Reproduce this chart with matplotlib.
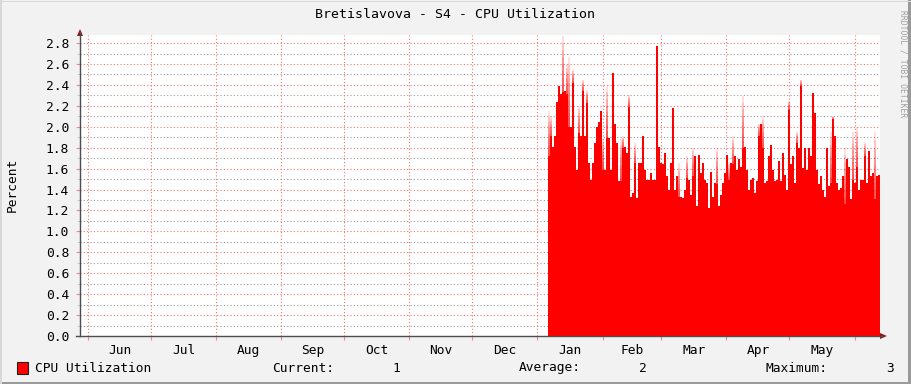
import numpy as np
import matplotlib.pyplot as plt
from matplotlib.patches import Rectangle, Polygon
from matplotlib.lines import Line2D

plt.rcParams["font.family"] = "DejaVu Sans Mono"

W, H = 911, 384

title = "Bretislavova - S4 - CPU Utilization"
months = ["Jun", "Jul", "Aug", "Sep", "Oct", "Nov", "Dec",
          "Jan", "Feb", "Mar", "Apr", "May"]
# day offsets of month starts (Jun 1 = 0) up to the next Jun 1
month_starts = [0, 30, 61, 92, 122, 153, 183, 214, 245, 273, 304, 334, 365]
y_ticks = [0.0, 0.2, 0.4, 0.6, 0.8, 1.0, 1.2, 1.4, 1.6, 1.8, 2.0, 2.2, 2.4, 2.6, 2.8]

# CPU utilisation samples (percent), roughly one per day, Jan 6 -> mid May
cpu = [
    1.72, 1.91, 1.81, 1.91, 2.24, 2.39, 2.31, 2.33, 2.34, 2.31, 2.00, 2.00, 2.42, 1.81,
    1.59, 1.94, 1.91, 2.34, 1.91, 2.23, 1.65, 1.49, 1.65, 1.84, 2.00, 2.05, 2.15,
    1.59, 1.59, 1.89, 1.89, 1.59, 2.51, 2.03, 1.84, 1.48, 1.48, 1.80, 1.81, 1.75, 2.19,
    1.33, 1.37, 1.65, 1.32, 1.65, 1.65, 1.91, 1.59, 1.49, 1.49, 1.56, 1.49, 1.49, 2.77,
    1.81, 1.65, 1.64, 1.75, 1.53, 1.40, 1.65, 2.18, 1.40, 1.53, 1.33, 1.33, 1.32, 1.40,
    1.51, 1.49, 1.35, 1.53, 1.72, 1.24, 1.73, 1.56, 1.65, 1.49, 1.46, 1.22, 1.57, 1.33,
    1.46, 1.45, 1.24, 1.35, 1.46, 1.56, 1.73, 1.49, 1.65, 1.64, 1.72, 1.59, 1.69, 1.62,
    1.80, 1.81, 1.59, 1.40, 1.49, 1.51, 1.37, 1.48, 1.91, 2.03, 1.80, 1.46, 1.48, 1.72,
    1.83, 1.59, 1.48, 1.49, 1.67, 1.48, 1.75, 1.54, 1.40, 2.16, 1.64, 1.72, 1.46, 1.84,
    1.80, 2.39, 1.61, 1.80, 1.59, 1.80, 1.72, 2.32, 2.13, 1.59, 1.45, 1.53, 1.40, 1.33,
    1.80, 1.43, 1.46, 2.07, 1.91, 1.46, 1.40, 1.41, 1.53, 1.26, 1.69, 1.62, 1.31, 1.49,
    1.46, 1.62, 1.40, 1.49, 1.49, 1.72, 1.46, 1.77, 1.53, 1.56, 1.31, 1.53, 1.54,
]
# short-lived peaks inside a sample (drawn as the faded tips)
spike_idx = [0, 1, 7, 9, 10, 12, 15, 17, 19, 27, 29, 36, 37, 40, 43,
             65, 69, 72, 84, 90, 92, 97, 105, 107, 120, 124, 126,
             141, 142, 148, 152, 154, 158, 163]
spike_top = [2.15, 2.10, 2.87, 2.60, 2.67, 2.55, 2.20, 2.45, 2.35, 1.88, 2.39, 1.88, 1.91, 2.30, 1.84,
             1.65, 1.72, 1.80, 1.80, 1.65, 1.91, 2.29, 2.03, 2.10, 2.25, 1.95, 2.45,
             1.95, 2.10, 1.80, 1.95, 2.00, 1.85, 1.95]
data_start, data_end = 219.0, 377.1  # days after Jun 1

legend_label = "CPU Utilization"
stats = [("Current:", "1"), ("Average:", "2"), ("Maximum:", "3")]

fig = plt.figure(figsize=(W / 100, H / 100), dpi=100)
fig.patch.set_facecolor("#f2f2f2")


def fx(px):
    return px / W


def fy(py):
    return 1 - py / H


# 3d frame
fig.add_artist(Rectangle((0, 0), 1, fy(H - 2), transform=fig.transFigure,
                         color="#9a9a9a", lw=0))
fig.add_artist(Rectangle((fx(W - 3), 0), fx(3), 1, transform=fig.transFigure,
                         color="#9a9a9a", lw=0))
fig.add_artist(Rectangle((0, 0), fx(2), 1, transform=fig.transFigure,
                         color="#d8d8d8", lw=0))
fig.add_artist(Rectangle((0, fy(2)), 1, fx(2), transform=fig.transFigure,
                         color="#d8d8d8", lw=0))

ax = fig.add_axes([fx(80), fy(336), fx(800), fy(35) - fy(336)])
ax.set_facecolor("white")
for s in ax.spines.values():
    s.set_visible(False)

ax.set_xlim(-3.8, 377.1)
ax.set_ylim(0, 2.877)

x = np.linspace(data_start, data_end, len(cpu) + 1)
base = np.array(list(cpu) + [cpu[-1]])
peak = base.copy()
for i, v in zip(spike_idx, spike_top):
    peak[i] = max(peak[i], v)

ax.fill_between(x, 0, base, step="post", color="#ff0000", lw=0, zorder=2)
# faded tips: stacked translucent layers give a red -> white gradient
n_layers = 8
for k in range(1, n_layers + 1):
    top = base + (peak - base) * k / n_layers
    ax.fill_between(x, base, top, step="post", color="#ff0000", alpha=0.13,
                    lw=0, zorder=2)

# grid
ax.set_yticks(y_ticks)
ax.set_yticklabels([f"{v:.1f}" for v in y_ticks])
ax.set_yticks(np.arange(0.1, 2.9, 0.2), minor=True)
ax.set_xticks(month_starts)
ax.set_xticklabels([])
mids = [(a + b) / 2 for a, b in zip(month_starts[:-1], month_starts[1:])]
ax.set_xticks(mids, minor=True)
ax.set_xticklabels(months, minor=True)

ax.grid(True, which="major", color=(0.93, 0.45, 0.45, 0.45), ls=(0, (1, 2)), lw=0.8, zorder=3)
ax.grid(True, which="minor", axis="y", color=(0.6, 0.6, 0.6, 0.4), ls=(0, (1, 2)), lw=0.8, zorder=3)
ax.tick_params(axis="y", which="major", length=3, color=(0.9, 0.3, 0.3, 0.6),
               labelsize=9.3, pad=5)
ax.tick_params(axis="y", which="minor", length=2, color=(0.6, 0.6, 0.6, 0.5))
ax.tick_params(axis="x", which="major", length=3, color=(0.9, 0.3, 0.3, 0.6))
ax.tick_params(axis="x", which="minor", length=0, labelsize=9.3, pad=6)

# axis lines with arrows
fig.add_artist(Line2D([fx(80), fx(80)], [fy(336), fy(32)], transform=fig.transFigure,
                      color="#4d4d4d", lw=1))
fig.add_artist(Line2D([fx(76), fx(882)], [fy(336), fy(336)], transform=fig.transFigure,
                      color="#4d4d4d", lw=1))
fig.add_artist(Polygon([[fx(77), fy(36)], [fx(83), fy(36)], [fx(80), fy(29)]],
                       transform=fig.transFigure, color="#8b1a1a", lw=0))
fig.add_artist(Polygon([[fx(880), fy(333)], [fx(880), fy(339)], [fx(887), fy(336)]],
                       transform=fig.transFigure, color="#8b1a1a", lw=0))

fig.text(fx(455), fy(15), title, ha="center", va="center", fontsize=9.5)
fig.text(fx(12), fy(185), "Percent", rotation=90, ha="center", va="center", fontsize=9.3)
fig.text(fx(903), fy(10), "RRDTOOL / TOBI OETIKER", rotation=270, ha="center", va="top",
         fontsize=5.8, color="#a0a0a0")

# legend
fig.add_artist(Rectangle((fx(17), fy(374)), fx(11), fy(362) - fy(374),
                         transform=fig.transFigure, facecolor="#ff0000",
                         edgecolor="#222222", lw=0.8))
fig.text(fx(35), fy(368), legend_label, ha="left", va="center", fontsize=9.3)
for (lab, val), lx, vx in zip(stats, [272, 519, 765], [400, 647, 894]):
    fig.text(fx(lx), fy(368), lab, ha="left", va="center", fontsize=9.3)
    fig.text(fx(vx), fy(368), val, ha="right", va="center", fontsize=9.3)

fig.savefig("out.png", dpi=100, facecolor=fig.get_facecolor())
